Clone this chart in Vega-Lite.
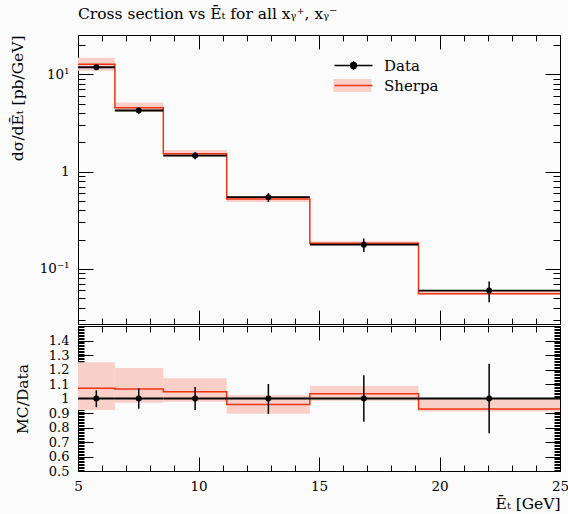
{
  "$schema": "https://vega.github.io/schema/vega-lite/v6.json",
  "padding": {"left": 9, "top": 6, "right": 5, "bottom": 5},
  "background": "#fbfbfb",
  "spacing": 0,
  "title": {
    "text": "Cross section vs Ēₜ for all xᵧ⁺, xᵧ⁻",
    "anchor": "start",
    "frame": "group",
    "font": "DejaVu Serif",
    "fontSize": 15.5,
    "fontWeight": "normal",
    "color": "black",
    "baseline": "alphabetic",
    "offset": 0
  },
  "config": {
    "view": {"stroke": "black", "strokeWidth": 1},
    "font": "DejaVu Serif",
    "axis": {
      "domain": false,
      "grid": false,
      "tickColor": "black",
      "tickWidth": 1,
      "labelFont": "DejaVu Serif",
      "labelColor": "black",
      "labelOverlap": false,
      "titleFont": "DejaVu Serif",
      "titleFontWeight": "normal",
      "titleFontSize": 15.5,
      "titleColor": "black"
    }
  },
  "datasets": {
    "bins": [
      {"lo": 5, "hi": 6.53, "x": 5.76, "data": 11.8, "dlo": 11.09, "dhi": 12.47, "blo": 10.86, "bhi": 14.75, "rdlo": 0.94, "rdhi": 1.057, "rblo": 0.92, "rbhi": 1.25},
      {"lo": 6.53, "hi": 8.54, "x": 7.52, "data": 4.24, "dlo": 3.94, "dhi": 4.54, "blo": 4.11, "bhi": 5.13, "rdlo": 0.93, "rdhi": 1.07, "rblo": 0.97, "rbhi": 1.21},
      {"lo": 8.54, "hi": 11.17, "x": 9.86, "data": 1.46, "dlo": 1.34, "dhi": 1.58, "blo": 1.426, "bhi": 1.664, "rdlo": 0.92, "rdhi": 1.08, "rblo": 0.977, "rbhi": 1.14},
      {"lo": 11.17, "hi": 14.62, "x": 12.9, "data": 0.545, "dlo": 0.487, "dhi": 0.6, "blo": 0.487, "bhi": 0.558, "rdlo": 0.894, "rdhi": 1.1, "rblo": 0.894, "rbhi": 1.023},
      {"lo": 14.62, "hi": 19.13, "x": 16.86, "data": 0.177, "dlo": 0.149, "dhi": 0.205, "blo": 0.1743, "bhi": 0.1924, "rdlo": 0.84, "rdhi": 1.16, "rblo": 0.985, "rbhi": 1.087},
      {"lo": 19.13, "hi": 25, "x": 22.06, "data": 0.0598, "dlo": 0.0454, "dhi": 0.0742, "blo": 0.0544, "bhi": 0.0598, "rdlo": 0.76, "rdhi": 1.24, "rblo": 0.91, "rbhi": 1.0}
    ],
    "edges": [
      {"edge": 5, "mc": 12.64, "rmc": 1.071},
      {"edge": 6.53, "mc": 4.52, "rmc": 1.066},
      {"edge": 8.54, "mc": 1.527, "rmc": 1.046},
      {"edge": 11.17, "mc": 0.523, "rmc": 0.959},
      {"edge": 14.62, "mc": 0.1827, "rmc": 1.032},
      {"edge": 19.13, "mc": 0.0555, "rmc": 0.928},
      {"edge": 25, "mc": 0.0555, "rmc": 0.928}
    ]
  },
  "vconcat": [
    {
      "width": 482,
      "height": 289,
      "resolve": {"axis": {"x": "independent", "y": "independent"}},
      "layer": [
        {
          "data": {"name": "bins"},
          "mark": {"type": "rect", "color": "#f8d0c8"},
          "encoding": {
            "x": {"field": "lo", "type": "quantitative", "scale": {"domain": [5, 25], "nice": false, "zero": false},
              "axis": {"orient": "bottom", "values": [5,6,7,8,9,10,11,12,13,14,15,16,17,18,19,20,21,22,23,24,25], "labels": false, "title": null,
                "tickSize": {"condition": {"test": "datum.value % 5 == 0", "value": -14}, "value": -6}}},
            "x2": {"field": "hi"},
            "y": {"field": "blo", "type": "quantitative", "scale": {"type": "log", "domain": [0.0271, 25.3], "nice": false},
              "axis": {"orient": "left", "values": [0.03,0.04,0.05,0.06,0.07,0.08,0.09,0.1,0.2,0.3,0.4,0.5,0.6,0.7,0.8,0.9,1,2,3,4,5,6,7,8,9,10,20],
                "tickSize": {"condition": {"test": "datum.value == 0.1 || datum.value == 1 || datum.value == 10", "value": -15}, "value": -7},
                "labelFontSize": {"condition": {"test": "datum.value == 0.1 || datum.value == 1 || datum.value == 10", "value": 13.5}, "value": 0},
                "labelExpr": "datum.value == 10 ? '10¹' : datum.value == 1 ? '1' : datum.value == 0.1 ? '10⁻¹' : ''",
                "labelPadding": 24,
                "title": "dσ/dĒₜ [pb/GeV]", "titleAnchor": "end", "titlePadding": 14}},
            "y2": {"field": "bhi"},
            "fill": {"datum": "Sherpa", "scale": {"range": ["#f8d0c8"]},
              "legend": {"orient": "none", "legendX": 264, "legendY": 40, "title": null, "symbolSize": 441,
                "symbolType": "M-1.81,-0.62H1.81V0.62H-1.81Z", "symbolStrokeWidth": 0, "labelOpacity": 0,
                "labelExpr": "''", "labelFontSize": 1, "labelOffset": 19, "rowPadding": 0, "padding": 0}}
          }
        },
        {
          "data": {"name": "edges"},
          "mark": {"type": "line", "interpolate": "step-after", "strokeWidth": 1.5},
          "encoding": {
            "x": {"field": "edge", "type": "quantitative", "scale": {"domain": [5, 25], "nice": false, "zero": false}, "axis": null},
            "y": {"field": "mc", "type": "quantitative", "scale": {"type": "log", "domain": [0.0271, 25.3], "nice": false}, "axis": null},
            "stroke": {"datum": "Sherpa", "scale": {"domain": ["Data", "Sherpa"], "range": ["black", "#ee3311"]},
              "legend": {"orient": "none", "legendX": 264, "legendY": 19, "title": null, "symbolSize": 441,
                "labelOffset": 19, "labelFont": "DejaVu Serif", "labelFontSize": 15, "labelColor": "black",
                "rowPadding": 0, "padding": 0, "symbolStrokeWidth": 1.5,
                "encoding": {"symbols": {
                  "fill": {"value": "black"},
                  "shape": {"condition": {"test": "datum.value === 'Data'", "value": "M-1.81,0H1.81M0,-0.43V0.43M-0.28,0A0.28,0.28 0 1,0 0.28,0A0.28,0.28 0 1,0 -0.28,0Z"}, "value": "M-1.81,0H1.81"}
                }}}}
          }
        },
        {
          "data": {"name": "bins"},
          "mark": {"type": "rule", "strokeWidth": 1.8},
          "encoding": {
            "x": {"field": "lo", "type": "quantitative", "scale": {"domain": [5, 25], "nice": false, "zero": false}, "axis": null},
            "x2": {"field": "hi"},
            "y": {"field": "data", "type": "quantitative", "scale": {"type": "log", "domain": [0.0271, 25.3], "nice": false}, "axis": null},
            "stroke": {"datum": "Data"}
          }
        },
        {
          "data": {"name": "bins"},
          "mark": {"type": "rule", "strokeWidth": 1.5, "color": "black"},
          "encoding": {
            "x": {"field": "x", "type": "quantitative", "scale": {"domain": [5, 25], "nice": false, "zero": false}, "axis": null},
            "y": {"field": "dlo", "type": "quantitative", "scale": {"type": "log", "domain": [0.0271, 25.3], "nice": false}, "axis": null},
            "y2": {"field": "dhi"}
          }
        },
        {
          "data": {"name": "bins"},
          "mark": {"type": "circle", "color": "black", "size": 36, "opacity": 1},
          "encoding": {
            "x": {"field": "x", "type": "quantitative", "scale": {"domain": [5, 25], "nice": false, "zero": false},
              "axis": {"orient": "top", "values": [5,6,7,8,9,10,11,12,13,14,15,16,17,18,19,20,21,22,23,24,25], "labels": false, "title": null,
                "tickSize": {"condition": {"test": "datum.value % 5 == 0", "value": -14}, "value": -6}}},
            "y": {"field": "data", "type": "quantitative", "scale": {"type": "log", "domain": [0.0271, 25.3], "nice": false},
              "axis": {"orient": "right", "values": [0.03,0.04,0.05,0.06,0.07,0.08,0.09,0.1,0.2,0.3,0.4,0.5,0.6,0.7,0.8,0.9,1,2,3,4,5,6,7,8,9,10,20], "labels": false, "title": null,
                "tickSize": {"condition": {"test": "datum.value == 0.1 || datum.value == 1 || datum.value == 10", "value": -15}, "value": -7}}}
          }
        }
      ]
    },
    {
      "width": 482,
      "height": 145,
      "resolve": {"axis": {"x": "independent", "y": "independent"}},
      "layer": [
        {
          "data": {"name": "bins"},
          "mark": {"type": "rect", "color": "#f8d0c8"},
          "encoding": {
            "x": {"field": "lo", "type": "quantitative", "scale": {"domain": [5, 25], "nice": false, "zero": false},
              "axis": {"orient": "bottom", "values": [5,6,7,8,9,10,11,12,13,14,15,16,17,18,19,20,21,22,23,24,25],
                "labelExpr": "datum.value % 5 == 0 ? datum.label : ''", "labelPadding": 22, "labelFlush": false,
                "labelFontSize": {"condition": {"test": "datum.value % 5 == 0", "value": 13.5}, "value": 0},
                "tickSize": {"condition": {"test": "datum.value % 5 == 0", "value": -14}, "value": -6},
                "title": "Ēₜ [GeV]", "titleAnchor": "end", "titlePadding": 4}},
            "x2": {"field": "hi"},
            "y": {"field": "rblo", "type": "quantitative", "scale": {"domain": [0.5, 1.5], "nice": false, "zero": false},
              "axis": {"orient": "left",
                "values": [0.5,0.51,0.52,0.53,0.54,0.55,0.56,0.57,0.58,0.59,0.6,0.61,0.62,0.63,0.64,0.65,0.66,0.67,0.68,0.69,0.7,0.71,0.72,0.73,0.74,0.75,0.76,0.77,0.78,0.79,0.8,0.81,0.82,0.83,0.84,0.85,0.86,0.87,0.88,0.89,0.9,0.91,0.92,0.93,0.94,0.95,0.96,0.97,0.98,0.99,1,1.01,1.02,1.03,1.04,1.05,1.06,1.07,1.08,1.09,1.1,1.11,1.12,1.13,1.14,1.15,1.16,1.17,1.18,1.19,1.2,1.21,1.22,1.23,1.24,1.25,1.26,1.27,1.28,1.29,1.3,1.31,1.32,1.33,1.34,1.35,1.36,1.37,1.38,1.39,1.4,1.41,1.42,1.43,1.44,1.45,1.46,1.47,1.48,1.49,1.5],
                "tickSize": {"condition": {"test": "abs(datum.value*10 - round(datum.value*10)) < 0.001", "value": -15}, "value": -6},
                "labelFontSize": {"condition": {"test": "abs(datum.value*10 - round(datum.value*10)) < 0.001 && datum.value < 1.45", "value": 13}, "value": 0},
                "labelExpr": "abs(datum.value*10 - round(datum.value*10)) < 0.001 && datum.value < 1.45 ? (datum.value == 1 ? '1' : format(datum.value, '.1f')) : ''",
                "labelPadding": 24,
                "title": "MC/Data", "titlePadding": 18}},
            "y2": {"field": "rbhi"}
          }
        },
        {
          "data": {"name": "edges"},
          "mark": {"type": "line", "interpolate": "step-after", "strokeWidth": 1.5, "color": "#ee3311"},
          "encoding": {
            "x": {"field": "edge", "type": "quantitative", "scale": {"domain": [5, 25], "nice": false, "zero": false}, "axis": null},
            "y": {"field": "rmc", "type": "quantitative", "scale": {"domain": [0.5, 1.5], "nice": false, "zero": false}, "axis": null}
          }
        },
        {
          "data": {"name": "bins"},
          "mark": {"type": "rule", "strokeWidth": 1.8, "color": "black"},
          "encoding": {
            "x": {"field": "lo", "type": "quantitative", "scale": {"domain": [5, 25], "nice": false, "zero": false}, "axis": null},
            "x2": {"field": "hi"},
            "y": {"datum": 1, "type": "quantitative", "scale": {"domain": [0.5, 1.5], "nice": false, "zero": false}, "axis": null}
          }
        },
        {
          "data": {"name": "bins"},
          "mark": {"type": "rule", "strokeWidth": 1.5, "color": "black"},
          "encoding": {
            "x": {"field": "x", "type": "quantitative", "scale": {"domain": [5, 25], "nice": false, "zero": false}, "axis": null},
            "y": {"field": "rdlo", "type": "quantitative", "scale": {"domain": [0.5, 1.5], "nice": false, "zero": false}, "axis": null},
            "y2": {"field": "rdhi"}
          }
        },
        {
          "data": {"name": "bins"},
          "mark": {"type": "circle", "color": "black", "size": 36, "opacity": 1},
          "encoding": {
            "x": {"field": "x", "type": "quantitative", "scale": {"domain": [5, 25], "nice": false, "zero": false},
              "axis": {"orient": "top", "values": [5,6,7,8,9,10,11,12,13,14,15,16,17,18,19,20,21,22,23,24,25], "labels": false, "title": null,
                "tickSize": {"condition": {"test": "datum.value % 5 == 0", "value": -14}, "value": -6}}},
            "y": {"datum": 1, "type": "quantitative", "scale": {"domain": [0.5, 1.5], "nice": false, "zero": false},
              "axis": {"orient": "right",
                "values": [0.5,0.51,0.52,0.53,0.54,0.55,0.56,0.57,0.58,0.59,0.6,0.61,0.62,0.63,0.64,0.65,0.66,0.67,0.68,0.69,0.7,0.71,0.72,0.73,0.74,0.75,0.76,0.77,0.78,0.79,0.8,0.81,0.82,0.83,0.84,0.85,0.86,0.87,0.88,0.89,0.9,0.91,0.92,0.93,0.94,0.95,0.96,0.97,0.98,0.99,1,1.01,1.02,1.03,1.04,1.05,1.06,1.07,1.08,1.09,1.1,1.11,1.12,1.13,1.14,1.15,1.16,1.17,1.18,1.19,1.2,1.21,1.22,1.23,1.24,1.25,1.26,1.27,1.28,1.29,1.3,1.31,1.32,1.33,1.34,1.35,1.36,1.37,1.38,1.39,1.4,1.41,1.42,1.43,1.44,1.45,1.46,1.47,1.48,1.49,1.5],
                "labels": false, "title": null,
                "tickSize": {"condition": {"test": "abs(datum.value*10 - round(datum.value*10)) < 0.001", "value": -15}, "value": -6}}}
          }
        }
      ]
    }
  ]
}
